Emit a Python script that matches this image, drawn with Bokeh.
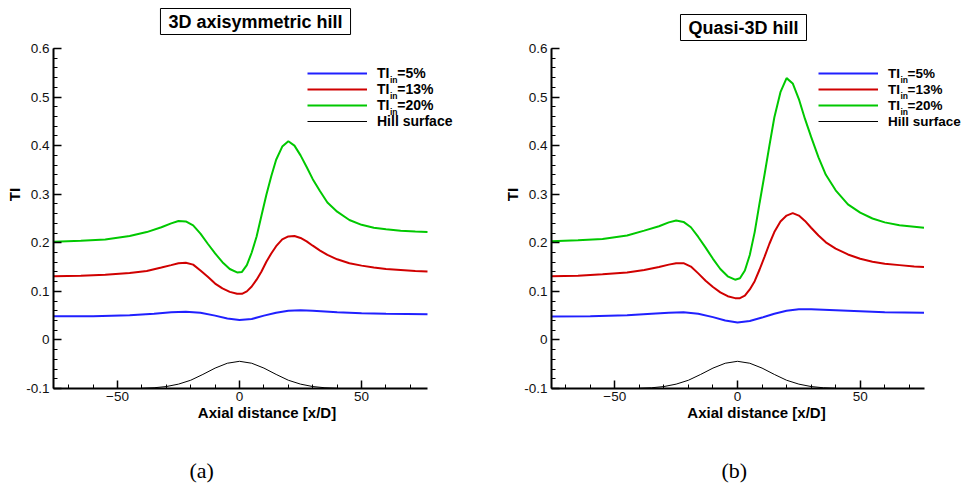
from bokeh.plotting import figure
from bokeh.layouts import row
from bokeh.models import (FixedTicker, Legend, LegendItem, Label, Title,
                          NumeralTickFormatter, Range1d)
from bokeh.embed import file_html
from bokeh.resources import INLINE

# ---------------- data ----------------
# Panel (a): 3D axisymmetric hill
a_x = [-76, -65, -55, -45, -38, -32, -28, -25, -22, -19, -16, -13, -10, -7, -4, -1,
       1, 3, 5, 7, 9, 11, 13, 15, 17.5, 20, 22.5, 25, 27.5, 30, 33, 36, 40, 45,
       50, 55, 60, 66, 72, 77]
a_ti20 = [0.202, 0.204, 0.207, 0.214, 0.222, 0.232, 0.240, 0.245, 0.244, 0.236,
          0.219, 0.198, 0.178, 0.160, 0.146, 0.139, 0.140, 0.154, 0.180, 0.213,
          0.256, 0.299, 0.337, 0.371, 0.398, 0.409, 0.400, 0.380, 0.356, 0.331,
          0.306, 0.283, 0.264, 0.247, 0.237, 0.231, 0.228, 0.225, 0.223, 0.222]
a_ti13 = [0.131, 0.132, 0.134, 0.138, 0.142, 0.149, 0.154, 0.158, 0.159, 0.155,
          0.143, 0.130, 0.116, 0.106, 0.099, 0.095, 0.095, 0.100, 0.110, 0.124,
          0.141, 0.161, 0.178, 0.193, 0.207, 0.213, 0.214, 0.210, 0.203, 0.194,
          0.184, 0.175, 0.166, 0.158, 0.153, 0.149, 0.146, 0.144, 0.142, 0.141]
a_x5 = [-76, -60, -45, -35, -28, -22, -16, -10, -5, 0, 5, 10, 15, 20, 25, 30,
        40, 50, 60, 77]
a_ti5 = [0.049, 0.049, 0.051, 0.054, 0.057, 0.058, 0.056, 0.050, 0.044, 0.041,
         0.043, 0.050, 0.056, 0.060, 0.061, 0.060, 0.057, 0.055, 0.054, 0.053]

# Panel (b): Quasi-3D hill
b_x = [-76, -65, -55, -45, -38, -32, -28, -25, -22, -19, -16, -13, -10, -7, -4, -1,
       1, 3, 5, 7, 9, 11, 13, 15, 17.5, 20, 22.5, 25, 27.5, 30, 33, 36, 40, 45,
       50, 55, 60, 66, 72, 76]
b_ti20 = [0.203, 0.205, 0.208, 0.215, 0.225, 0.234, 0.242, 0.246, 0.243, 0.232,
          0.212, 0.190, 0.167, 0.146, 0.131, 0.124, 0.127, 0.143, 0.175, 0.222,
          0.282, 0.340, 0.400, 0.458, 0.510, 0.539, 0.528, 0.496, 0.455, 0.418,
          0.376, 0.340, 0.308, 0.279, 0.262, 0.250, 0.242, 0.236, 0.233, 0.231]
b_ti13 = [0.131, 0.132, 0.135, 0.139, 0.144, 0.150, 0.155, 0.158, 0.158, 0.151,
          0.137, 0.122, 0.109, 0.098, 0.090, 0.086, 0.086, 0.091, 0.104, 0.121,
          0.145, 0.171, 0.198, 0.222, 0.244, 0.256, 0.261, 0.256, 0.245, 0.231,
          0.215, 0.201, 0.188, 0.176, 0.167, 0.161, 0.157, 0.154, 0.151, 0.150]
b_x5 = [-76, -60, -45, -35, -28, -22, -16, -10, -5, 0, 5, 10, 15, 20, 25, 30,
        40, 50, 60, 76]
b_ti5 = [0.048, 0.049, 0.051, 0.054, 0.056, 0.057, 0.054, 0.047, 0.040, 0.036,
         0.039, 0.046, 0.054, 0.060, 0.063, 0.063, 0.061, 0.059, 0.057, 0.056]

# Hill surface (same in both panels)
hill_x = [-40, -35, -30, -25, -20, -15, -10, -5, 0, 5, 10, 15, 20, 25, 30, 35, 40]
hill_y = [-0.0995, -0.0985, -0.096, -0.091, -0.083, -0.071, -0.058, -0.048, -0.044,
          -0.048, -0.058, -0.071, -0.083, -0.091, -0.096, -0.0985, -0.0995]

legend_labels = ["TI  =5%", "TI  =13%", "TI  =20%", "Hill surface"]
x_major = [-50, 0, 50]
x_minor = [-70, -60, -40, -30, -20, -10, 10, 20, 30, 40, 60, 70]
y_major = [-0.1, 0.0, 0.1, 0.2, 0.3, 0.4, 0.5, 0.6]
y_minor = [round(-0.1 + 0.02 * i, 2) for i in range(36)]

BLUE = "#2020ff"
RED = "#d00000"
GREEN = "#00c800"
FONT = "Liberation Sans"

PX_PER_Y = 340 / 0.7      # vertical scale of the reference axes
FRAME_H = 388             # frame runs from canvas top down to the y=-0.1 axis


def make_panel(title, tag, xs, y20, y13, xs5, y5, xb, width, bl,
               leg_x, leg_font, sub_dx, title_xy, tag_off):
    axis_px = 374 if bl < 60 else 373
    px_per_x = axis_px / (xb[1] - xb[0])
    frame_w = width - bl
    x_end = xb[0] + frame_w / px_per_x
    y_end = -0.1 + FRAME_H / PX_PER_Y
    p = figure(frame_width=frame_w, frame_height=FRAME_H,
               width=width, height=484,
               x_range=Range1d(xb[0], x_end), y_range=Range1d(-0.1, y_end),
               output_backend="svg", toolbar_location=None,
               min_border_left=bl, min_border_right=0,
               min_border_top=0, min_border_bottom=484 - FRAME_H)
    p.outline_line_color = None
    p.xgrid.visible = False
    p.ygrid.visible = False
    p.background_fill_color = "white"
    p.border_fill_color = "white"

    r5 = p.line(xs5, y5, line_color=BLUE, line_width=2)
    r13 = p.line(xs, y13, line_color=RED, line_width=2)
    r20 = p.line(xs, y20, line_color=GREEN, line_width=2)
    rh = p.line(hill_x, hill_y, line_color="black", line_width=1)

    for ax in (p.xaxis[0], p.yaxis[0]):
        ax.axis_line_width = 2
        ax.axis_line_color = "black"
        ax.major_tick_in = 8
        ax.major_tick_out = 0
        ax.minor_tick_in = 4
        ax.minor_tick_out = 0
        ax.major_tick_line_width = 1.5
        ax.minor_tick_line_width = 1
        ax.major_label_text_font = FONT
        ax.major_label_text_font_size = "13.5px"
        ax.major_label_text_color = "#111111"
        ax.axis_label_text_font = FONT
        ax.axis_label_text_font_style = "bold"
        ax.axis_label_text_color = "black"

    p.xaxis.bounds = xb
    p.xaxis.ticker = FixedTicker(ticks=x_major, minor_ticks=x_minor)
    p.xaxis.axis_label = "Axial distance [x/D]"
    p.xaxis.axis_label_text_font_size = "15px"
    p.xaxis.major_label_standoff = 3
    p.xaxis.axis_label_standoff = 0

    p.yaxis.bounds = (-0.1, 0.6)
    p.yaxis.ticker = FixedTicker(ticks=y_major, minor_ticks=y_minor)
    p.yaxis.formatter = NumeralTickFormatter(format="0.[0]")
    p.yaxis.axis_label = "TI"
    p.yaxis.axis_label_text_font_size = "15px"
    p.yaxis.major_label_standoff = 4
    p.yaxis.axis_label_standoff = 0

    legend = Legend(items=[LegendItem(label=legend_labels[0], renderers=[r5]),
                           LegendItem(label=legend_labels[1], renderers=[r13]),
                           LegendItem(label=legend_labels[2], renderers=[r20]),
                           LegendItem(label=legend_labels[3], renderers=[rh])],
                    location=(leg_x, 259), padding=0, margin=0, spacing=0,
                    glyph_width=60, glyph_height=16, label_height=16,
                    label_standoff=10, border_line_color=None,
                    background_fill_alpha=0,
                    label_text_font=FONT, label_text_font_style="bold",
                    label_text_font_size=leg_font, label_text_color="black")
    p.add_layout(legend)

    sub_x = leg_x + 70 + sub_dx
    for i in range(3):
        p.add_layout(Label(x=sub_x, y=309 - 16 * i, x_units="screen", y_units="screen",
                           text="in", text_font=FONT, text_font_style="bold",
                           text_font_size="8.5px", text_baseline="middle",
                           text_align="left", text_color="black"))

    p.add_layout(Label(x=title_xy[0], y=title_xy[1], x_units="screen", y_units="screen",
                       text=title, text_font=FONT, text_font_style="bold",
                       text_font_size="18px", text_align="center",
                       text_baseline="middle", text_color="black",
                       border_line_color="black", border_line_width=1,
                       background_fill_color="white", padding=(8, 3)))

    p.add_layout(Title(text=tag, align="left", offset=tag_off, standoff=68,
                       vertical_align="top",
                       text_font="Liberation Serif", text_font_style="normal",
                       text_font_size="22px", text_color="black"), "below")
    return p


pa = make_panel("3D axisymmetric hill", "(a)", a_x, a_ti20, a_ti13, a_x5, a_ti5,
                (-76.2, 77), 480, 53, 254, "14px", 12.4, (202, 367), 136)
pb = make_panel("Quasi-3D hill", "(b)", b_x, b_ti20, b_ti13, b_x5, b_ti5,
                (-75.8, 76.2), 481, 71, 267, "13.5px", 12.0, (192, 361), 170)

layout = row(pa, pb)
open("out.html", "w").write(file_html(layout, INLINE))
